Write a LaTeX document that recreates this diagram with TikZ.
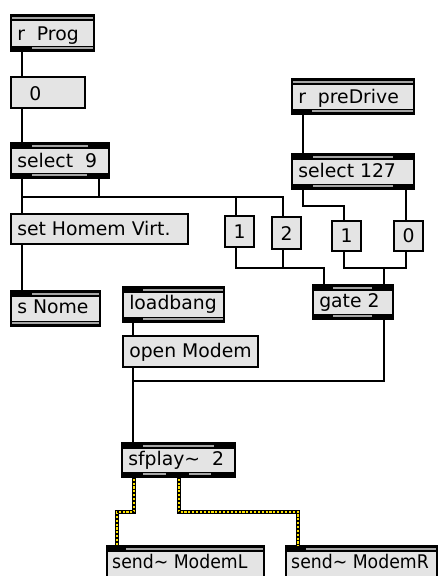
\documentclass[tikz,border=0pt]{standalone}
\usepackage{fontspec}
\setmainfont{DejaVu Sans}
\usetikzlibrary{calc,fit}
\definecolor{boxfill}{RGB}{228,228,228}
\definecolor{stripgray}{RGB}{165,165,165}
\definecolor{sigyellow}{RGB}{255,228,0}
\tikzset{
  pdbox/.style={draw=black, line width=1pt, fill=boxfill, inner sep=0pt, outer sep=0pt, rectangle},
  pdtext/.style={anchor=base west, inner sep=0pt, font=\fontsize{14.1}{16}\selectfont},
  pdnarrow/.style={pdtext, xscale=0.92, transform shape},
  pdnum/.style={anchor=base, inner sep=0pt, font=\fontsize{14.1}{16}\selectfont},
  cable/.style={line width=1.1pt, draw=black, line join=miter},
  sig/.style={preaction={draw=black, line width=2.5pt}, draw=sigyellow, line width=1.4pt,
              postaction={draw=black, line width=1.4pt, dash pattern=on 1.3pt off 1.6pt}},
}
% strip: x1, x2, ytop, gray segments
\newcommand\pdstrip[4]{%
  \fill[black] (#1,#3) rectangle (#2,#3+5.5);
  \foreach \ga/\gb in {#4} {\fill[stripgray] (\ga,#3+1.7) rectangle (\gb,#3+3.7);}%
}
\begin{document}
\begin{tikzpicture}[x=0.75pt, y=-0.75pt]
\useasboundingbox (0,0) rectangle (438,576);
\fill[white] (0,0) rectangle (438,576);

% r Prog
\node[pdbox, fit={(11,15) (94,51)}] (prog) {};
\pdstrip{11}{94}{15}{12/93}
\pdstrip{11}{94}{45.5}{32/93}
\node[pdtext] (progt) at (17,40) {r\ \ Prog};

% number box 0
\node[pdbox, fit={(11,77) (85,108)}] (num0) {};
\node[pdtext] (num0t) at (29,100) {0};

% select 9
\node[pdbox, fit={(11,143) (109,178)}] (sel9) {};
\pdstrip{11}{109}{143}{32/88}
\pdstrip{11}{109}{172.5}{32/87}
\node[pdtext] (sel9t) at (17,167) {select\ \ 9};

% set Homem Virt.
\node[pdbox, fit={(11,214) (188,244)}] (sethom) {};
\node[pdtext] (sethomt) at (17,235) {set Homem Virt.};

% s Nome
\node[pdbox, fit={(11,291) (100,326)}] (snome) {};
\pdstrip{11}{100}{291}{32/99}
\pdstrip{11}{100}{320.5}{12/99}
\node[pdtext] (snomet) at (17,313) {s Nome};

% loadbang
\node[pdbox, fit={(123,287) (224,322)}] (lb) {};
\pdstrip{123}{224}{287}{143/223}
\pdstrip{123}{224}{316.5}{143/223}
\node[pdtext] (lbt) at (129,309) {loadbang};

% open Modem
\node[pdbox, fit={(123,336) (258,367)}] (om) {};
\node[pdtext] (omt) at (129,357) {open Modem};

% sfplay~ 2
\node[pdbox, fit={(122,443) (235,477)}] (sfp) {};
\pdstrip{122}{235}{443}{143/214}
\pdstrip{122}{235}{471.5}{143/166,189/211}
\node[pdtext] (sfpt) at (128,465) {sfplay\textasciitilde\ \ 2};

% send~ ModemL
\node[pdbox, fit={(107,546) (264,582)}] (sendL) {};
\pdstrip{107}{264}{546}{126/263}
\node[pdnarrow] (sendLt) at (112,568) {send\textasciitilde\ ModemL};

% send~ ModemR
\node[pdbox, fit={(286,546) (437,582)}] (sendR) {};
\pdstrip{286}{437}{546}{306/436}
\node[pdnarrow] (sendRt) at (291,568) {send\textasciitilde\ ModemR};

% r preDrive
\node[pdbox, fit={(292,79) (414,114)}] (prdr) {};
\pdstrip{292}{414}{79}{293/413}
\pdstrip{292}{414}{108.5}{312/413}
\node[pdtext] (prdrt) at (298,103) {r\ \ preDrive};

% select 127
\node[pdbox, fit={(292,154) (414,189)}] (sel127) {};
\pdstrip{292}{414}{154}{313/393}
\pdstrip{292}{414}{183.5}{313/393}
\node[pdtext] (sel127t) at (298,177) {select 127};

% gate 2
\node[pdbox, fit={(313,285) (393,319)}] (gate) {};
\pdstrip{313}{393}{285}{333/372}
\pdstrip{313}{393}{313.5}{333/372}
\node[pdtext] (gatet) at (319,307) {gate 2};

% message boxes
\node[pdbox, fit={(225,216) (254,247)}] (m1) {};
\node[pdnum] (m1t) at (239.5,238) {1};
\node[pdbox, fit={(272,217) (301,249)}] (m2) {};
\node[pdnum] (m2t) at (286.5,240) {2};
\node[pdbox, fit={(332,221) (361,251)}] (m1r) {};
\node[pdnum] (m1rt) at (346.5,242) {1};
\node[pdbox, fit={(394,221) (423,251)}] (m0) {};
\node[pdnum] (m0t) at (408.5,242) {0};

% control cables
\draw[cable] ($(prog.south west)+(11,0)$) -- ($(num0.north west)+(11,0)$);
\draw[cable] ($(num0.south west)+(11,0)$) -- ($(sel9.north west)+(11,0)$);
\draw[cable] ($(sel9.south west)+(11,0)$) -- ($(sethom.north west)+(11,0)$);
\draw[cable] ($(sel9.south west)+(11,19)$) -| ($(m2.north west)+(11,0)$);
\draw[cable] ($(m1.north west)+(11,0)$) -- ($(m1.north west)+(11,-19)$);
\draw[cable] ($(sel9.south west)+(88,0)$) -- ($(sel9.south west)+(88,19)$);
\draw[cable] ($(sethom.south west)+(11,0)$) -- ($(snome.north west)+(11,0)$);
\draw[cable] ($(prdr.south west)+(11,0)$) -- ($(sel127.north west)+(11,0)$);
\draw[cable] ($(sel127.south west)+(11,0)$) -- ($(sel127.south west)+(11,17)$) -| ($(m1r.north west)+(12,0)$);
\draw[cable] ($(sel127.south east)+(-8,0)$) -- ($(m0.north west)+(12,0)$);
\draw[cable] ($(m1.south west)+(11,0)$) |- ($(gate.north west)+(11,-17)$) -- ($(gate.north west)+(11,0)$);
\draw[cable] ($(m2.south west)+(11,0)$) -- ($(m2.south west)+(11,19)$);
\draw[cable] ($(m1r.south west)+(12,0)$) |- ($(m0.south west)+(12,17)$) -- ($(m0.south west)+(12,0)$);
\draw[cable] ($(gate.north west)+(71,-17)$) -- ($(gate.north west)+(71,0)$);
\draw[cable] ($(gate.south west)+(71,0)$) |- ($(om.south west)+(10,14)$);
\draw[cable] ($(lb.south west)+(10,0)$) -- ($(om.north west)+(10,0)$);
\draw[cable] ($(om.south west)+(10,0)$) -- ($(sfp.north west)+(11,0)$);

% signal cables
\path[sig] ($(sfp.south west)+(12,0)$) |- ($(sendL.north west)+(10,-34)$) -- ($(sendL.north west)+(10,0)$);
\path[sig] ($(sfp.south west)+(57,0)$) |- ($(sendR.north west)+(12,-34)$) -- ($(sendR.north west)+(12,0)$);
\end{tikzpicture}
\end{document}
